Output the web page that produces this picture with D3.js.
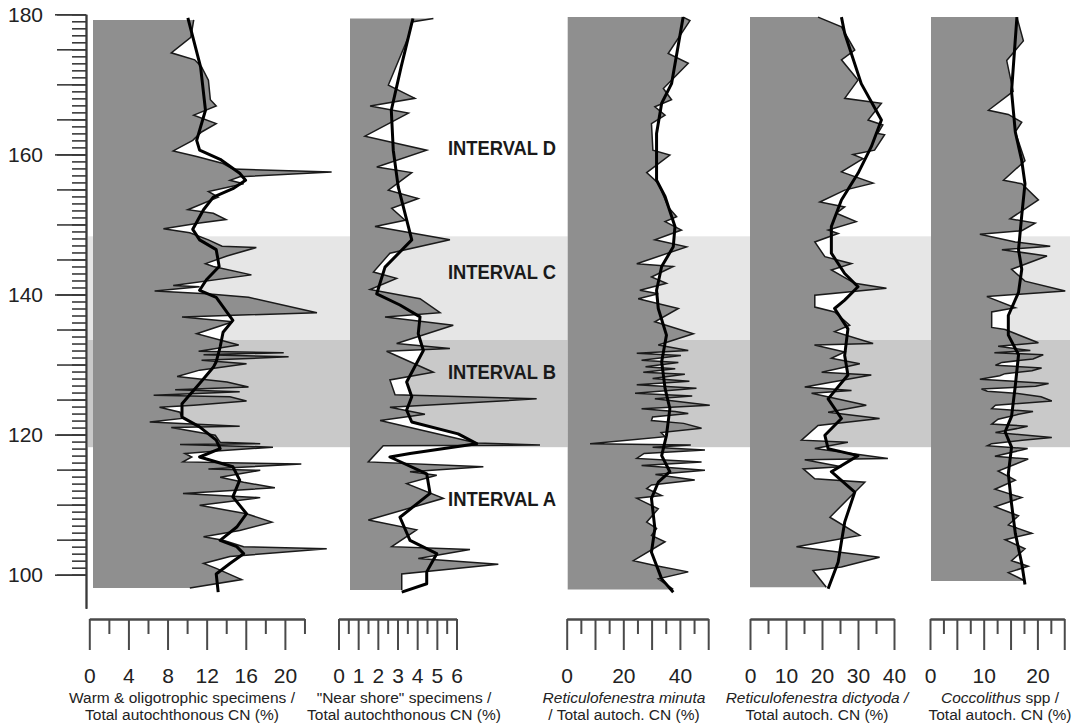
<!DOCTYPE html>
<html>
<head>
<meta charset="utf-8">
<script src="https://cdn.jsdelivr.net/npm/d3@7"></script>
<style>
  html, body { margin: 0; padding: 0; background: #fff; }
  svg { display: block; font-family: "Liberation Sans", Arial, sans-serif; }
  .tick-label text { font-size: 21px; fill: #222; }
  .title { font-size: 15.5px; fill: #222; }
  .interval { font-size: 20.5px; font-weight: bold; fill: #1a1a1a; }
</style>
</head>
<body>
<svg id="chart" width="1085" height="728"></svg>
<script>
// Depth (y) vs percentage (x) series: [depth, value]
const warmRaw = [[179.2,10.3],[176.7,10.0],[174.5,8.0],[173.5,10.4],[172.5,11.1],[170.6,11.8],[167.8,12.0],[166.9,12.6],[165.6,10.3],[164.4,12.6],[163.2,11.1],[162.0,10.2],[160.5,8.2],[159.7,10.6],[158.7,13.3],[157.9,14.3],[157.5,24.4],[156.8,15.0],[156.3,14.0],[155.8,15.4],[154.7,11.8],[153.9,12.8],[152.1,9.7],[151.6,12.3],[150.7,13.6],[150.2,10.9],[149.4,7.2],[148.8,9.9],[147.8,11.8],[146.9,13.2],[146.7,16.7],[145.5,13.7],[144.4,11.5],[144.0,12.3],[142.8,16.2],[141.3,8.2],[141.1,10.9],[140.5,6.3],[140.1,11.6],[139.6,15.9],[137.4,22.9],[136.8,9.1],[136.1,14.3],[134.4,10.6],[132.8,14.9],[131.9,10.8],[131.7,19.5],[131.4,11.3],[131.1,20.0],[130.6,11.1],[130.1,15.7],[129.2,10.9],[128.3,8.6],[127.5,13.7],[126.8,15.9],[126.4,8.4],[126.1,15.0],[125.6,6.2],[125.4,14.0],[124.8,15.7],[124.2,10.3],[123.9,6.8],[123.2,8.9],[122.3,9.1],[121.8,5.8],[121.2,15.0],[121.0,8.0],[119.9,12.5],[118.9,13.0],[118.7,17.1],[118.6,8.9],[118.2,18.4],[117.7,13.0],[117.3,9.4],[116.8,10.1],[116.1,9.2],[115.8,21.3],[115.1,11.8],[114.9,17.1],[113.9,13.0],[113.2,15.4],[112.4,18.6],[111.6,9.2],[111.0,17.1],[109.9,10.9],[108.7,15.7],[107.5,18.3],[106.3,15.0],[105.4,11.3],[104.9,13.3],[104.0,15.4],[103.7,23.9],[102.6,14.0],[101.6,11.3],[100.9,12.6],[99.3,15.2],[98.1,9.9]];
const warmSmooth = [[179.5,9.7],[172.5,11.0],[166.3,11.5],[162.0,10.6],[160.6,10.9],[159.3,13.0],[157.3,15.0],[156.3,15.6],[155.1,14.3],[153.9,12.3],[152.1,11.3],[149.3,10.2],[147.8,10.9],[146.4,12.6],[144.0,12.9],[142.1,11.6],[140.6,10.9],[139.6,12.6],[136.3,14.3],[134.6,13.3],[132.5,13.0],[130.4,12.6],[129.6,12.3],[127.3,10.9],[124.4,9.1],[122.5,9.1],[121.1,10.9],[119.2,12.6],[118.0,13.0],[116.8,10.9],[115.4,14.3],[113.5,15.0],[111.1,14.3],[108.7,15.7],[106.8,14.7],[104.9,13.0],[104.0,14.7],[103.0,15.4],[101.6,14.0],[100.1,12.6],[97.5,12.8]];

const nearRaw = [[179.4,4.24],[178.9,3.14],[176.8,2.97],[169.9,1.95],[168.0,3.30],[166.9,1.02],[165.9,2.97],[162.6,0.76],[160.6,3.90],[158.2,1.36],[157.4,3.14],[154.9,1.95],[153.7,3.47],[152.3,2.12],[150.6,2.80],[149.7,1.27],[147.8,5.08],[145.9,2.03],[143.2,1.19],[142.3,2.37],[140.7,1.02],[139.4,3.56],[137.4,4.58],[136.8,1.78],[135.6,5.25],[133.0,2.37],[132.3,5.08],[131.9,1.86],[128.9,4.24],[127.8,2.03],[125.7,2.29],[125.1,9.49],[123.9,2.03],[122.9,3.81],[122.0,1.53],[118.8,6.44],[118.5,9.66],[118.4,1.69],[116.1,0.93],[115.4,6.78],[114.7,3.05],[114.2,4.41],[113.0,2.88],[110.9,4.75],[107.8,0.93],[106.4,3.39],[104.0,2.12],[103.6,6.10],[102.3,3.47],[101.5,7.54],[100.1,2.63],[97.8,2.63]];
const nearSmooth = [[179.4,3.2],[172.5,2.6],[166.3,2.1],[160.6,2.2],[155.4,2.45],[147.8,3.14],[143.9,1.78],[140.1,1.36],[138.5,2.54],[136.8,3.56],[134.4,3.47],[132.0,3.73],[127.5,2.88],[125.4,3.14],[123.5,2.88],[121.8,3.14],[120.1,5.5],[118.7,6.44],[117.3,3.05],[116.8,2.03],[114.4,3.9],[111.6,4.07],[108.2,2.54],[104.9,3.05],[103.0,4.41],[100.4,3.9],[98.7,3.9],[97.5,2.63]];

const minutaRaw = [[179.6,40.8],[179.1,43.2],[174.4,35.5],[173.0,42.6],[169.4,33.8],[167.8,36.7],[166.8,30.8],[165.6,34.4],[164.4,29.6],[160.6,30.1],[159.9,36.1],[157.4,27.9],[155.9,32.0],[152.5,35.5],[151.1,38.5],[150.4,34.4],[149.2,40.2],[147.8,30.8],[146.8,42.0],[144.4,24.4],[144.0,37.3],[142.5,29.6],[141.6,34.9],[140.6,25.5],[140.1,32.0],[139.4,24.9],[138.0,39.1],[136.1,30.8],[134.4,44.4],[132.8,32.0],[132.0,42.6],[131.6,24.4],[131.3,40.0],[130.6,26.1],[130.3,39.1],[129.7,27.5],[129.4,38.0],[128.9,26.7],[128.6,41.4],[128.0,30.0],[127.6,43.0],[127.1,24.4],[126.6,45.5],[125.9,23.8],[125.5,44.0],[125.1,30.8],[124.2,50.2],[123.7,26.1],[123.3,38.0],[123.0,42.6],[122.5,30.0],[122.0,29.6],[121.6,41.0],[120.9,47.3],[120.3,33.0],[119.7,34.4],[118.7,7.9],[118.5,43.5],[118.2,30.0],[117.8,48.5],[117.3,27.0],[116.6,24.4],[116.1,47.3],[115.6,26.1],[114.9,48.5],[114.3,31.0],[113.5,44.9],[112.8,29.6],[112.3,27.9],[111.3,33.2],[110.9,24.4],[109.4,32.0],[107.5,27.9],[106.6,31.4],[105.6,29.6],[104.7,34.4],[102.0,23.2],[101.3,30.8],[100.4,42.6],[99.4,32.0],[97.9,37.3]];
const minutaSmooth = [[179.6,40.8],[170.1,36.7],[167.3,33.2],[163.0,31.4],[156.3,31.4],[154.0,34.4],[149.7,37.9],[146.8,37.3],[144.0,33.2],[140.6,31.4],[138.0,32.0],[134.2,34.9],[130.4,33.2],[126.6,34.4],[123.7,36.1],[119.9,34.9],[117.0,33.2],[114.7,36.1],[113.2,32.0],[110.9,29.6],[106.6,30.8],[103.2,29.6],[99.4,33.2],[97.5,37.3]];

const dictyodaRaw = [[179.6,18.9],[178.2,25.4],[174.9,29.1],[173.5,25.4],[170.6,30.0],[168.0,26.3],[167.3,36.5],[164.9,32.8],[164.2,36.9],[163.0,35.5],[162.8,37.4],[160.6,34.6],[160.0,28.6],[159.4,31.4],[157.5,25.4],[155.9,34.2],[154.9,26.3],[153.2,19.4],[152.5,26.3],[151.6,24.0],[150.4,29.5],[149.2,21.7],[148.7,24.5],[147.5,18.0],[145.4,20.8],[144.4,28.2],[143.5,22.6],[141.6,29.1],[140.9,37.9],[139.9,18.0],[138.2,18.0],[137.5,23.5],[135.6,27.7],[134.7,23.5],[133.0,34.2],[132.8,17.9],[131.8,26.3],[130.9,22.6],[130.1,30.5],[128.9,19.9],[128.5,33.7],[126.8,15.2],[126.3,28.2],[125.9,17.1],[124.2,32.3],[123.2,21.7],[122.3,36.0],[121.3,18.9],[119.2,14.3],[118.9,27.2],[118.0,18.0],[116.6,38.3],[116.4,15.2],[115.4,25.4],[115.1,14.8],[113.7,18.0],[113.2,31.9],[111.3,28.2],[108.2,22.2],[105.6,30.5],[104.0,12.9],[102.5,36.0],[101.1,25.4],[100.6,17.5],[98.2,21.2]];
const dictyodaSmooth = [[179.6,25.4],[177.3,26.3],[170.1,30.9],[164.9,36.5],[161.1,33.7],[157.3,30.0],[153.5,25.4],[149.7,22.6],[145.9,22.6],[143.0,26.3],[141.1,30.0],[139.2,26.3],[138.0,23.5],[135.1,27.2],[131.3,26.3],[128.5,27.2],[125.1,21.7],[122.3,25.4],[119.9,20.8],[118.0,21.7],[117.0,30.0],[114.7,22.6],[111.8,29.1],[107.5,26.3],[104.7,25.4],[101.8,24.5],[98.0,21.7]];

const coccoRaw = [[179.6,16.0],[176.2,17.2],[173.4,14.1],[169.0,15.3],[166.3,10.7],[165.7,14.4],[164.6,16.9],[163.2,15.7],[159.1,17.5],[156.3,13.5],[155.8,16.9],[153.5,20.0],[150.8,14.7],[150.2,19.4],[149.1,16.9],[148.6,9.1],[147.5,15.7],[146.9,22.2],[146.4,13.2],[145.5,21.6],[143.6,15.0],[141.9,17.5],[140.5,25.0],[139.7,10.4],[138.1,15.7],[137.5,11.3],[135.3,11.3],[135.0,13.8],[133.1,20.0],[132.6,12.5],[132.0,18.5],[131.7,11.8],[131.4,20.9],[130.8,19.0],[130.3,13.2],[129.9,12.0],[129.5,20.6],[129.1,18.8],[128.7,13.8],[128.4,12.8],[127.9,9.1],[127.3,21.9],[126.9,19.5],[126.5,9.4],[126.2,10.5],[125.9,15.7],[125.4,20.5],[124.8,22.5],[124.2,12.0],[123.7,11.3],[123.3,19.0],[122.9,16.3],[122.2,12.5],[121.5,11.3],[121.2,18.0],[120.9,16.3],[120.3,12.0],[119.6,22.5],[119.2,17.0],[118.7,11.3],[118.4,10.5],[118.0,18.0],[117.8,16.9],[116.9,11.9],[116.5,18.1],[114.8,12.5],[113.5,15.7],[112.2,11.9],[111.0,16.9],[109.7,11.9],[108.4,16.3],[107.1,14.4],[105.9,18.8],[105.0,13.8],[103.7,17.5],[102.0,15.0],[101.2,18.1],[100.3,14.4],[99.1,17.5]];
const coccoSmooth = [[179.6,16.0],[169.0,15.0],[163.2,15.7],[159.1,16.9],[155.8,17.5],[151.3,16.9],[146.4,16.3],[143.6,16.9],[140.3,16.3],[137.0,14.4],[134.2,14.4],[131.4,16.3],[127.0,15.7],[122.6,15.0],[120.4,13.8],[118.2,15.0],[114.4,14.4],[110.1,15.0],[105.9,15.7],[101.6,16.9],[98.6,17.5]];

// Intervals (depth ranges) and labels
const intervalBands = [[148.3, 133.5], [133.5, 118.2]];
const intervalLabels = ["INTERVAL D", "INTERVAL C", "INTERVAL B", "INTERVAL A"];
const intervalLabelDepths = [161.0, 143.2, 129.0, 110.9];

// Tick labels
const depthLabels = [100, 120, 140, 160, 180];
const warmTicks = [0, 4, 8, 12, 16, 20];
const nearTicks = [0, 1, 2, 3, 4, 5, 6];
const minutaTicks = [0, 20, 40];
const dictyodaTicks = [0, 10, 20, 30, 40];
const coccoTicks = [0, 10, 20];

const titles = [
  [[["Warm & oligotrophic specimens /", false]], [["Total autochthonous CN (%)", false]]],
  [[["\"Near shore\" specimens /", false]], [["Total autochthonous CN (%)", false]]],
  [[["Reticulofenestra minuta", true]], [["/ Total autoch. CN (%)", false]]],
  [[["Reticulofenestra dictyoda /", true]], [["Total autoch. CN (%)", false]]],
  [[["Coccolithus", true], [" spp /", false]], [["Total autoch. CN (%)", false]]]
];

(function() {
  const svg = d3.select("#chart");

  const y = d3.scaleLinear().domain([95.2, 180]).range([608.3, 14.3]);
  const axisY = 619;

  const panels = [
    { raw: warmRaw, smooth: warmSmooth, ticks: warmTicks, max: 22, step: 4, axis0: 89.3, data0: 93, ppu: 9.78, titleX: 182 },
    { raw: nearRaw, smooth: nearSmooth, ticks: nearTicks, max: 6, step: 1, axis0: 338.5, data0: 350, ppu: 19.67, titleX: 404 },
    { raw: minutaRaw, smooth: minutaSmooth, ticks: minutaTicks, max: 50, step: 10, axis0: 566.7, data0: 567.7, ppu: 2.83, titleX: 624 },
    { raw: dictyodaRaw, smooth: dictyodaSmooth, ticks: dictyodaTicks, max: 40, step: 10, axis0: 750, data0: 750, ppu: 3.6, titleX: 817 },
    { raw: coccoRaw, smooth: coccoSmooth, ticks: coccoTicks, max: 25, step: 5, axis0: 930, data0: 931, ppu: 5.37, titleX: 1000 }
  ];

  // Interval bands across all panels
  const bandFill = ["#e6e6e6", "#c9c9c9"];
  svg.append("g").selectAll("rect")
    .data(intervalBands)
    .join("rect")
    .attr("x", 88)
    .attr("width", 1070 - 88)
    .attr("y", d => y(d[0]))
    .attr("height", d => y(d[1]) - y(d[0]))
    .attr("fill", (d, i) => bandFill[i]);

  panels.forEach((p, i) => {
    const x = d3.scaleLinear().domain([0, p.max]).range([p.data0, p.data0 + p.max * p.ppu]);
    const xa = d3.scaleLinear().domain([0, p.max]).range([p.axis0, p.axis0 + p.max * p.ppu]);
    const g = svg.append("g");

    const area = d3.area().x0(x(0)).x1(d => x(d[1])).y(d => y(d[0]));
    const line = d3.line().x(d => x(d[1])).y(d => y(d[0]));

    // white between raw and smoothed curve, grey under raw curve
    g.append("path").datum(p.smooth).attr("d", area).attr("fill", "#fff");
    g.append("path").datum(p.raw).attr("d", area).attr("fill", "#8f8f8f");
    g.append("path").datum(p.raw).attr("d", line)
      .attr("fill", "none").attr("stroke", "#1a1a1a").attr("stroke-width", 1.5);
    g.append("path").datum(p.smooth).attr("d", line)
      .attr("fill", "none").attr("stroke", "#000").attr("stroke-width", 3)
      .attr("stroke-linejoin", "round");

    // Bottom scale: long ticks, short ticks, labels
    const longT = d3.range(0, p.max + 1e-9, p.step);
    const shortT = d3.range(p.step / 2, p.max + 1e-9, p.step);
    const ax = svg.append("g").attr("transform", `translate(0,${axisY})`);
    ax.append("g").call(d3.axisBottom(xa).tickValues(longT).tickSize(31).tickSizeOuter(0).tickFormat(""));
    ax.append("g").call(d3.axisBottom(xa).tickValues(shortT).tickSize(15).tickSizeOuter(0).tickFormat(""));
    ax.append("g").attr("class", "tick-label")
      .call(d3.axisBottom(xa).tickValues(p.ticks).tickSize(0).tickPadding(49).tickFormat(d3.format("d")))
      .call(s => s.select(".domain").remove());
    ax.selectAll(".domain, line").attr("stroke", "#4a4a4a").attr("stroke-width", 2);
    ax.selectAll("text").attr("font-family", null).attr("font-size", null);

    // Axis title, two lines
    const t = svg.append("text").attr("class", "title").attr("text-anchor", "middle");
    titles[i].forEach((lineParts, li) => {
      const ln = t.append("tspan").attr("x", p.titleX).attr("y", 703 + li * 17);
      lineParts.forEach(([txt, it]) => {
        ln.append("tspan").text(txt).attr("font-style", it ? "italic" : "normal");
      });
    });
  });

  // Depth axis
  const ya = svg.append("g").attr("transform", "translate(86,0)");
  ya.append("g").call(d3.axisLeft(y).tickValues(d3.range(100, 181, 1)).tickSize(14).tickSizeOuter(0).tickFormat(""));
  ya.append("g").call(d3.axisLeft(y).tickValues(d3.range(100, 181, 5)).tickSize(29).tickSizeOuter(0).tickFormat(""));
  ya.append("g").attr("class", "tick-label")
    .call(d3.axisLeft(y).tickValues(depthLabels).tickSize(31).tickSizeOuter(0).tickPadding(12).tickFormat(d3.format("d")));
  ya.selectAll(".domain, line").attr("stroke", "#3a3a3a").attr("stroke-width", 1.6);
  ya.selectAll("text").attr("font-family", null).attr("font-size", null);

  // Interval labels
  svg.append("g").selectAll("text")
    .data(intervalLabels)
    .join("text")
    .attr("class", "interval")
    .attr("x", 448)
    .attr("y", (d, i) => y(intervalLabelDepths[i]))
    .attr("dy", "0.36em")
    .attr("textLength", 108)
    .attr("lengthAdjust", "spacingAndGlyphs")
    .text(d => d);
})();
</script>
</body>
</html>
